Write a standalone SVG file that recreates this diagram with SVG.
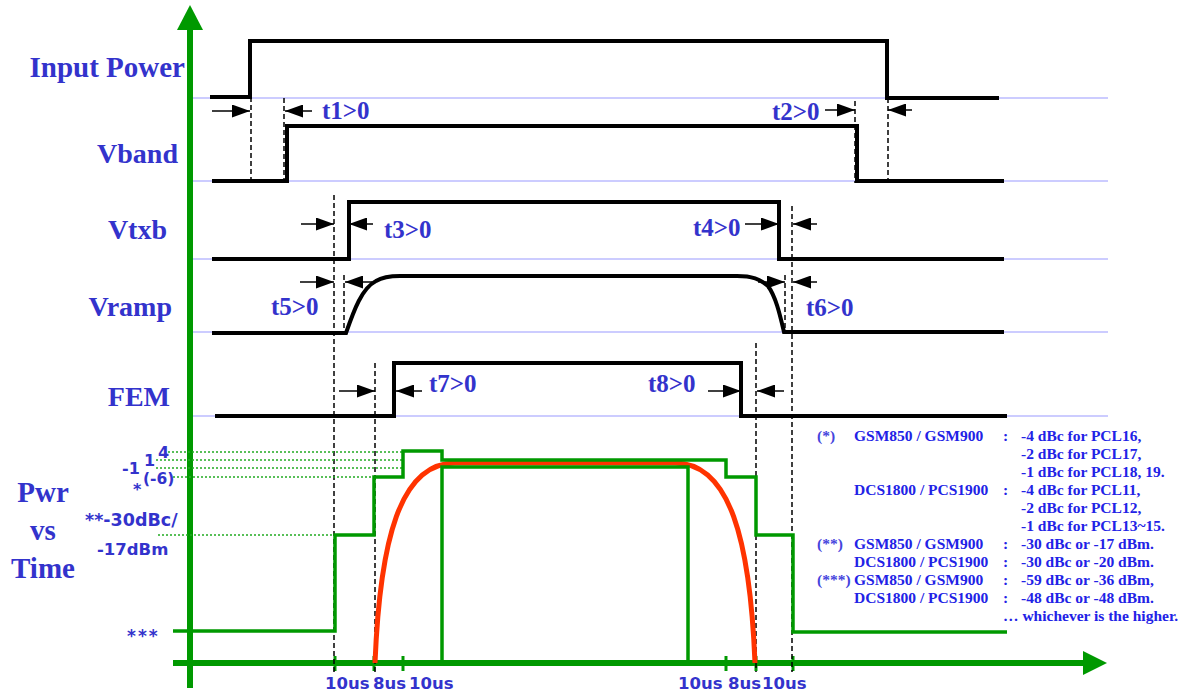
<svg xmlns="http://www.w3.org/2000/svg" width="1188" height="697" viewBox="0 0 1188 697">
<style>
.lbl{font-family:"Liberation Serif","Times New Roman",serif;font-weight:bold;fill:#3333CC}
.tl{font-family:"Liberation Serif","Times New Roman",serif;font-weight:bold;font-size:25px;fill:#3333CC}
.sm{font-family:"DejaVu Sans",Verdana,sans-serif;font-weight:bold;fill:#3333CC}
.note{font-family:"Liberation Serif","Times New Roman",serif;font-weight:bold;font-size:15.5px}
.sig{fill:none;stroke:#000;stroke-width:4;stroke-linejoin:miter}
.grid{stroke:#CCCCFF;stroke-width:2}
.dash{stroke:#000;stroke-width:1.5;stroke-dasharray:5 3;fill:none}
.dim{stroke:#000;stroke-width:1.5;fill:none;marker-end:url(#ah)}
.mask{fill:none;stroke:#009900;stroke-width:3.5}
.dot{stroke:#22AA22;stroke-width:1.5;stroke-dasharray:2 2}
.tick{stroke:#009900;stroke-width:3}
</style>
<defs>
<marker id="ah" viewBox="0 0 18 13" refX="18" refY="6.5" markerWidth="18" markerHeight="13" orient="auto" markerUnits="userSpaceOnUse">
<path d="M0,0 L18,6.5 L0,13 z" fill="#000"/>
</marker>
</defs>
<rect width="1188" height="697" fill="#fff"/>

<g id="gridlines">
<line class="grid" x1="193" y1="98" x2="1108" y2="98"/>
<line class="grid" x1="193" y1="181" x2="1108" y2="181"/>
<line class="grid" x1="193" y1="259" x2="1108" y2="259"/>
<line class="grid" x1="193" y1="332" x2="1108" y2="332"/>
<line class="grid" x1="193" y1="416" x2="1108" y2="416"/>
</g>

<g id="axes">
<line x1="190" y1="28" x2="190" y2="688" stroke="#009900" stroke-width="6"/>
<path d="M190,5 L203,30 L177,30 z" fill="#009900"/>
<line x1="173" y1="663" x2="1085" y2="663" stroke="#009900" stroke-width="6"/>
<path d="M1107,663 L1083,651 L1083,675 z" fill="#009900"/>
<line class="tick" x1="335" y1="656" x2="335" y2="671"/>
<line class="tick" x1="374" y1="656" x2="374" y2="671"/>
<line class="tick" x1="403" y1="656" x2="403" y2="671"/>
<line class="tick" x1="726" y1="656" x2="726" y2="671"/>
<line class="tick" x1="756" y1="656" x2="756" y2="671"/>
<line class="tick" x1="793" y1="656" x2="793" y2="671"/>
</g>

<g id="node-input-power">
<text class="lbl" x="185" y="77" text-anchor="end" font-size="29">Input Power</text>
<path class="sig" d="M210,97 H250 V41 H887 V98 H999"/>
</g>
<g id="node-vband">
<text class="lbl" x="178" y="163" text-anchor="end" font-size="28">Vband</text>
<path class="sig" d="M212,181 H287 V126 H857 V181 H1004"/>
</g>
<g id="node-vtxb">
<text class="lbl" x="167" y="239" text-anchor="end" font-size="28">Vtxb</text>
<path class="sig" d="M212,259 H349 V202 H779 V259 H1004"/>
</g>
<g id="node-vramp">
<text class="lbl" x="172" y="316" text-anchor="end" font-size="28">Vramp</text>
<path class="sig" d="M212,333 H346 C354,310 362,288 376,281 Q384,276 400,276 H737 C752,276 760,279 768,286 C776,297 780,315 784,332 H1004"/>
</g>
<g id="node-fem">
<text class="lbl" x="170" y="406" text-anchor="end" font-size="28">FEM</text>
<path class="sig" d="M215,416 H394 V363 H741 V416 H1007"/>
</g>

<g id="connectors">
<line class="dash" x1="251" y1="97" x2="251" y2="181"/>
<line class="dash" x1="284" y1="98" x2="284" y2="181"/>
<line class="dash" x1="855" y1="101" x2="855" y2="183"/>
<line class="dash" x1="888" y1="98" x2="888" y2="183"/>
<line class="dash" x1="334" y1="195" x2="334" y2="672"/>
<line class="dash" x1="344" y1="275" x2="344" y2="332"/>
<line class="dash" x1="375" y1="363" x2="375" y2="673"/>
<line class="dash" x1="792" y1="206" x2="792" y2="672"/>
<line class="dash" x1="785" y1="275" x2="785" y2="330"/>
<line class="dash" x1="756" y1="343" x2="756" y2="672"/>

<line class="dim" x1="212" y1="111" x2="250" y2="111"/>
<line class="dim" x1="312" y1="111" x2="285" y2="111"/>
<line class="dim" x1="825" y1="110" x2="855" y2="110"/>
<line class="dim" x1="912" y1="110" x2="888" y2="110"/>
<line class="dim" x1="301" y1="224" x2="334" y2="224"/>
<line class="dim" x1="373" y1="224" x2="349" y2="224"/>
<line class="dim" x1="745" y1="224" x2="779" y2="224"/>
<line class="dim" x1="817" y1="224" x2="793" y2="224"/>
<line class="dim" x1="300" y1="282" x2="334" y2="282"/>
<line class="dim" x1="372" y1="282" x2="345" y2="282"/>
<line class="dim" x1="758" y1="282" x2="785" y2="282"/>
<line class="dim" x1="817" y1="282" x2="793" y2="282"/>
<line class="dim" x1="339" y1="391" x2="375" y2="391"/>
<line class="dim" x1="422" y1="391" x2="396" y2="391"/>
<line class="dim" x1="708" y1="391" x2="741" y2="391"/>
<line class="dim" x1="784" y1="391" x2="757" y2="391"/>

<text class="tl" x="322" y="119">t1&gt;0</text>
<text class="tl" x="772" y="120">t2&gt;0</text>
<text class="tl" x="384" y="238">t3&gt;0</text>
<text class="tl" x="693" y="236">t4&gt;0</text>
<text class="tl" x="271" y="315">t5&gt;0</text>
<text class="tl" x="806" y="316">t6&gt;0</text>
<text class="tl" x="429" y="392">t7&gt;0</text>
<text class="tl" x="648" y="392">t8&gt;0</text>
</g>

<g id="node-pwr-vs-time">
<text class="lbl" x="43" y="502" text-anchor="middle" font-size="29">Pwr</text>
<text class="lbl" x="43" y="540" text-anchor="middle" font-size="29">vs</text>
<text class="lbl" x="43" y="578" text-anchor="middle" font-size="29">Time</text>

<line class="dot" x1="168" y1="452" x2="402" y2="452"/>
<line class="dot" x1="156" y1="460" x2="402" y2="460"/>
<line class="dot" x1="156" y1="468" x2="402" y2="468"/>
<line class="dot" x1="173" y1="477" x2="373" y2="477"/>
<line class="dot" x1="158" y1="535" x2="333" y2="535"/>

<path d="M375,663 C380,540 400,463 455,463 H675 C730,463 750,540 755,663" fill="none" stroke="#FF3300" stroke-width="5"/>
<path class="mask" d="M173,631 H335 V535 H374 V477 H403 V451 H442 V460 H726 V477 H756 V535 H793 V632 H1007"/>
<path class="mask" d="M442,663 V467 H688 V663"/>

<text class="sm" x="158" y="458" font-size="16">4</text>
<text class="sm" x="144" y="466" font-size="16">1</text>
<text class="sm" x="122" y="474" font-size="16">-1</text>
<text class="sm" x="143" y="484" font-size="15.5">(-6)</text>
<text class="sm" x="133" y="495" font-size="16">*</text>
<text class="sm" x="85" y="526" font-size="17.5">**-30dBc/</text>
<text class="sm" x="97" y="555" font-size="16.5">-17dBm</text>
<text class="sm" x="127" y="642" font-size="17" letter-spacing="2">***</text>

<text class="sm" x="325" y="689" font-size="16.5">10us</text>
<text class="sm" x="373" y="689" font-size="16.5">8us</text>
<text class="sm" x="409" y="689" font-size="16.5">10us</text>
<text class="sm" x="678" y="689" font-size="16.5">10us</text>
<text class="sm" x="728" y="689" font-size="16.5">8us</text>
<text class="sm" x="762" y="689" font-size="16.5">10us</text>
</g>

<g id="node-notes" fill="#2222E6">
<text class="note" x="817" y="441" fill="#4444DD">(*)</text>
<text class="note" x="854" y="441">GSM850 / GSM900</text>
<text class="note" x="1003" y="441">:</text>
<text class="note" x="1021" y="441">-4 dBc for PCL16,</text>
<text class="note" x="1021" y="459">-2 dBc for PCL17,</text>
<text class="note" x="1021" y="477">-1 dBc for PCL18, 19.</text>
<text class="note" x="854" y="495">DCS1800 / PCS1900</text>
<text class="note" x="1003" y="495">:</text>
<text class="note" x="1021" y="495">-4 dBc for PCL11,</text>
<text class="note" x="1021" y="513">-2 dBc for PCL12,</text>
<text class="note" x="1021" y="531">-1 dBc for PCL13~15.</text>
<text class="note" x="817" y="549" fill="#4444DD">(**)</text>
<text class="note" x="854" y="549">GSM850 / GSM900</text>
<text class="note" x="1003" y="549">:</text>
<text class="note" x="1021" y="549">-30 dBc or -17 dBm.</text>
<text class="note" x="854" y="567">DCS1800 / PCS1900</text>
<text class="note" x="1003" y="567">:</text>
<text class="note" x="1021" y="567">-30 dBc or -20 dBm.</text>
<text class="note" x="817" y="585" fill="#4444DD">(***)</text>
<text class="note" x="854" y="585">GSM850 / GSM900</text>
<text class="note" x="1003" y="585">:</text>
<text class="note" x="1021" y="585">-59 dBc or -36 dBm,</text>
<text class="note" x="854" y="603">DCS1800 / PCS1900</text>
<text class="note" x="1003" y="603">:</text>
<text class="note" x="1021" y="603">-48 dBc or -48 dBm.</text>
<text class="note" x="1003" y="621">… whichever is the higher.</text>
</g>
</svg>
